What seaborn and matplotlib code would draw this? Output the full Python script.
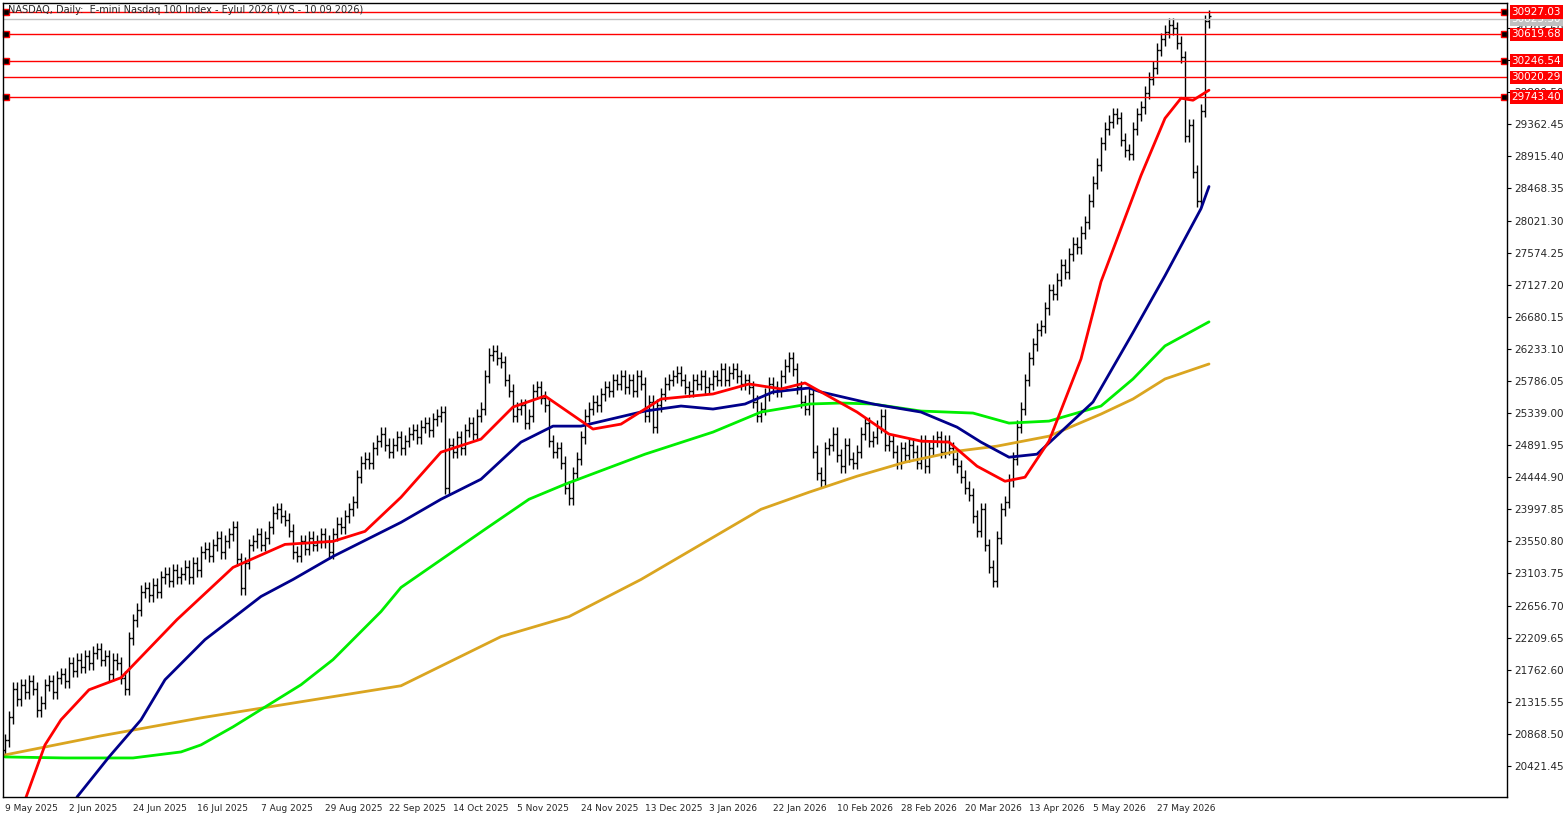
import numpy as np
import pandas as pd
import seaborn as sns
import matplotlib.pyplot as plt

sns.set_style("white")
plt.rcParams['font.family'] = ['DejaVu Sans']

# --- Daily closes ---
closes = [
    20780, 21100, 21500, 21350, 21550, 21450, 21600, 21500, 21200, 21300,
    21550, 21600, 21450, 21650, 21700, 21600, 21850, 21750, 21900, 21800,
    21950, 21850, 22000, 22050, 21900, 21950, 21700, 21900, 21850, 21650,
    21500, 22200, 22450, 22600, 22850, 22900, 22800, 22950, 22850, 23050,
    23100, 23000, 23150, 23050, 23100, 23200, 23050, 23250, 23150, 23400,
    23450, 23350, 23500, 23600, 23400, 23550, 23650, 23750, 23300, 22900,
    23250, 23500, 23550, 23650, 23500, 23600, 23750, 23950, 24000, 23900,
    23850, 23700, 23400, 23350, 23550, 23450, 23600, 23500, 23550, 23650,
    23550, 23400, 23650, 23800, 23750, 23900, 24000, 24100, 24450, 24650,
    24700, 24650, 24850, 24950, 25050, 24900, 24800, 24900, 25000, 24850,
    24950, 25050, 25100, 25000, 25150, 25200, 25100, 25250, 25300, 25350,
    24300, 24900, 24800, 25000, 24850, 25100, 25200, 25050, 25300, 25400,
    25850, 26150, 26200, 26100, 26050, 25800, 25650, 25300, 25400, 25450,
    25200, 25300, 25650, 25700, 25550, 25450, 24950, 24800, 24850, 24650,
    24300, 24150, 24500, 24700, 25000, 25300, 25400, 25500, 25450, 25600,
    25700, 25650, 25800, 25750, 25850, 25700, 25800, 25650, 25850, 25750,
    25300, 25500, 25150, 25450, 25600, 25750, 25800, 25850, 25900, 25800,
    25700, 25650, 25800, 25750, 25850, 25700, 25750, 25850, 25800, 25950,
    25800, 25900, 25950, 25850, 25750, 25800, 25700, 25500, 25300, 25400,
    25600, 25750, 25700, 25650, 25850, 26000, 26100, 25950, 25700, 25500,
    25400, 25600, 24800, 24500, 24400, 24850, 24900, 25050, 24750, 24600,
    24900, 24700, 24650, 24800, 25050, 25200, 24950, 25000, 25150, 25300,
    24900, 24950, 24800, 24650, 24850, 24750, 24900, 24800, 24650, 24950,
    24600, 24850, 24950, 25000, 24800, 24950, 24850, 24700, 24600, 24450,
    24300, 24200, 23900, 23700, 24000, 23500, 23200, 23000, 23600, 24000,
    24100, 24400, 24700, 25150, 25400, 25800, 26100, 26300, 26500, 26550,
    26800, 27050, 27000, 27200, 27400, 27300, 27550, 27700, 27650, 27850,
    28000, 28300, 28550, 28800, 29100, 29300, 29400, 29500, 29450, 29150,
    29000, 28950, 29300, 29500, 29600, 29800, 30000, 30150, 30400, 30550,
    30650, 30750, 30700, 30500, 30300, 29200, 29350, 28700, 28300, 29550,
    30800, 30870,
]
first_open = 20650
wick = 90

# --- Moving averages (bar index, price) ---
red_idx = [5, 10, 14, 21, 29, 43, 57, 70, 82, 90, 99, 109, 119, 127, 135, 147, 154, 164, 177,
           186, 194, 200, 213, 221, 229, 236, 243, 250, 255, 261, 269, 274, 279, 284, 290, 294, 297, 301]
red_val = [19946, 20715, 21065, 21483, 21651, 22461, 23188, 23509, 23551, 23691, 24166, 24794,
           24976, 25423, 25577, 25116, 25185, 25535, 25605, 25744, 25675, 25758, 25353, 25046,
           24948, 24934, 24599, 24389, 24445, 24948, 26093, 27169, 27910, 28650, 29446, 29726,
           29698, 29838]
blue_idx = [18, 26, 34, 40, 50, 64, 72, 82, 99, 109, 119, 129, 137, 144, 160, 169, 177, 185, 192,
            201, 204, 217, 229, 238, 244, 251, 258, 272, 282, 290, 299, 301]
blue_val = [19989, 20547, 21064, 21623, 22182, 22783, 23020, 23341, 23816, 24138, 24417, 24934,
            25157, 25157, 25367, 25437, 25395, 25465, 25633, 25688, 25633, 25465, 25353, 25143,
            24934, 24724, 24766, 25493, 26461, 27253, 28187, 28496]
green_idx = [0, 15, 32, 44, 49, 57, 74, 82, 94, 99, 120, 131, 140, 160, 177, 189, 201, 209, 217,
             229, 242, 251, 261, 274, 282, 290, 301]
green_val = [20547, 20533, 20533, 20617, 20715, 20966, 21553, 21903, 22573, 22909, 23719, 24138,
             24347, 24766, 25074, 25353, 25465, 25479, 25465, 25367, 25339, 25199, 25227, 25437,
             25814, 26275, 26610]
gold_idx = [0, 24, 49, 74, 99, 124, 141, 159, 174, 189, 201, 213, 225, 238, 248, 261, 274, 282, 290, 301]
gold_val = [20575, 20841, 21092, 21316, 21539, 22224, 22503, 23020, 23509, 23998, 24236, 24459,
            24654, 24808, 24878, 25017, 25325, 25535, 25814, 26023]

# --- Horizontal levels ---
levels = [30927.03, 30619.68, 30246.54, 30020.29, 29743.40]
level_marker = [True, True, True, False, True]
bid_level = 30825.50

date_labels = ['9 May 2025', '2 Jun 2025', '24 Jun 2025', '16 Jul 2025', '7 Aug 2025',
               '29 Aug 2025', '22 Sep 2025', '14 Oct 2025', '5 Nov 2025', '24 Nov 2025',
               '13 Dec 2025', '3 Jan 2026', '22 Jan 2026', '10 Feb 2026', '28 Feb 2026',
               '20 Mar 2026', '13 Apr 2026', '5 May 2026', '27 May 2026']
date_idx = [16 * i for i in range(len(date_labels))]
ytick_start, ytick_step, ytick_n = 20421.45, 447.05, 24

# --- Build OHLC ---
c = np.array(closes, dtype=float)
o = np.concatenate([[first_open], c[:-1]])
h = np.maximum(o, c) + wick
l = np.minimum(o, c) - wick
x = np.arange(len(c))

fig = plt.figure(figsize=(15.65, 8.18), dpi=100)
ax = fig.add_axes([3 / 1565, 21 / 818, 1504 / 1565, 794 / 818])

ax.vlines(x, l, h, color='black', lw=1)
ax.hlines(o, x - 0.45, x, color='black', lw=1)
ax.hlines(c, x, x + 0.45, color='black', lw=1)

for xs, ys, col in [(gold_idx, gold_val, '#DAA520'), (green_idx, green_val, '#00EE00'),
                    (blue_idx, blue_val, '#00008B'), (red_idx, red_val, '#FF0000')]:
    sns.lineplot(x=xs, y=ys, color=col, lw=2, ax=ax)

ax.set_xlim(-0.5, 375.5)
ax.set_ylim(19989, 31053)

ax.axhline(bid_level, color='#C0C0C0', lw=1)
ax.text(1.003, bid_level, f'{bid_level:.2f}', transform=ax.get_yaxis_transform(),
        color='white', fontsize=7.5, va='center', ha='left', zorder=5,
        bbox=dict(boxstyle='square,pad=0.15', fc='#C0C0C0', ec='none'), clip_on=False)
for lv, mk in zip(levels, level_marker):
    ax.axhline(lv, color='red', lw=1)
    if mk:
        ax.plot([0.002, 0.998], [lv, lv], 's', color='black', mec='red', ms=4,
                transform=ax.get_yaxis_transform(), clip_on=False)
    ax.text(1.003, lv, f'{lv:.2f}', transform=ax.get_yaxis_transform(), color='white',
            fontsize=7.5, va='center', ha='left', zorder=6,
            bbox=dict(boxstyle='square,pad=0.15', fc='red', ec='none'), clip_on=False)

ax.yaxis.tick_right()
yt = [ytick_start + ytick_step * i for i in range(ytick_n)]
ax.set_yticks(yt)
ax.set_yticklabels([f'{v:.2f}' for v in yt], fontsize=7.5)
ax.set_xticks(date_idx)
ax.set_xticklabels(date_labels, fontsize=6.5, ha='left')
ax.tick_params(axis='both', length=3, pad=2, direction='out', color='black')
for s in ax.spines.values():
    s.set_color('black')
    s.set_linewidth(1)

ax.text(0.003, 0.997, 'NASDAQ, Daily:  E-mini Nasdaq 100 Index - Eylul 2026 (V.S.- 10.09.2026)',
        transform=ax.transAxes, fontsize=7, va='top', ha='left')

fig.savefig('out.png', dpi=100)
